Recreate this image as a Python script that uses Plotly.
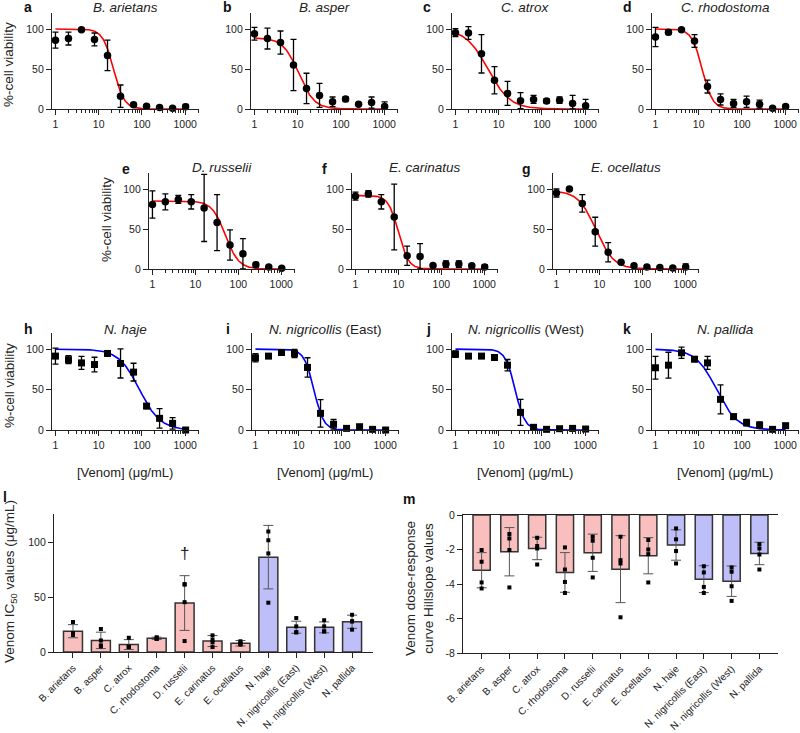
import numpy as np
import plotly.graph_objects as go

W, H = 800, 733

# ---------------- data ----------------
conc = [1, 2, 4, 8, 16, 32, 64, 128, 256, 512, 1024]

species_panels = ["B. arietans", "B. asper", "C. atrox", "C. rhodostoma",
                  "D. russelii", "E. carinatus", "E. ocellatus",
                  "N. haje", "N. nigricollis", "N. nigricollis", "N. pallida"]
species_suffix = ["", "", "", "", "", "", "", "", " (East)", " (West)", ""]
panel_letters = ["a", "b", "c", "d", "e", "f", "g", "h", "i", "j", "k"]

viab_a = [86, 88, 99, 87, 67, 16, 5.4, 3.3, 2, 0.8, 2.9]
sd_a = [10, 8, 1, 8, 19, 14, 2, 1.5, 1, 1, 3]
viab_b = [94, 88, 83, 55, 25.7, 17, 9, 12.4, 5.8, 8, 3]
sd_b = [8, 13, 14.5, 32, 19, 15, 6, 3, 1, 7, 6]
viab_c = [95.4, 95, 69, 36, 19.5, 10.4, 12, 10, 11, 7, 4]
sd_c = [5, 8, 24, 17, 15, 10, 5, 3, 4, 10, 8]
viab_d = [90, 96, 99, 85, 28, 12, 7, 9, 6, 1, 3]
sd_d = [12, 3, 1, 8, 8, 7, 5, 7, 5, 1, 2]
viab_e = [80.6, 84, 87, 84, 76.4, 58, 30, 19, 5.4, 2.5, 0.8]
sd_e = [17, 10, 5, 9, 42, 35, 19, 19, 3, 1, 1]
viab_f = [91, 94, 84, 65, 16.5, 15.7, 4.5, 6.2, 6.2, 4, 2.5]
sd_f = [5, 4, 9, 41, 12, 16, 1, 4, 4, 2.5, 3]
viab_g = [95, 100, 82, 46.7, 21, 8.3, 4, 2.5, 2, 1.2, 2.5]
sd_g = [5, 1, 11, 18, 12, 1, 2, 1, 1, 1, 4]
viab_h = [91.4, 87, 83, 81, 94.7, 82.3, 71.6, 29.6, 14.4, 8.2, 0]
sd_h = [10, 5, 8, 9, 3, 18, 11, 3, 12, 7, 1]
viab_i = [89.3, 91.4, 95.9, 94.7, 77.4, 20.6, 7, 2, 4, 0.8, 0]
sd_i = [5, 1, 1, 5, 12, 17, 6, 1, 3, 1, 1]
viab_j = [93.8, 91.4, 91.4, 89.7, 80.2, 21.8, 3.3, 0.8, 1.6, 2, 1.2]
sd_j = [4, 1, 1, 3, 7, 16, 2, 1, 1, 1, 1]
viab_k = [77, 80.2, 95.5, 87.6, 83, 37.9, 16.5, 9, 6, 0.8, 5.3]
sd_k = [14, 16, 7, 3, 8, 18, 3, 4, 4, 1, 3]

viab_all = [viab_a, viab_b, viab_c, viab_d, viab_e, viab_f, viab_g,
            viab_h, viab_i, viab_j, viab_k]
sd_all = [sd_a, sd_b, sd_c, sd_d, sd_e, sd_f, sd_g, sd_h, sd_i, sd_j, sd_k]

# four-parameter logistic fit parameters
fit_top = [100, 89, 100, 100, 85, 92, 98, 100, 100, 100, 100]
fit_bottom = [0, 0, 0, 0, 0, 0, 0, 0, 0, 0, 0]
fit_ic50 = [22, 10.5, 5.6, 12, 50, 10, 8.3, 88, 22.4, 24, 26]
fit_hill = [3.5, 2.4, 1.7, 3.6, 2.8, 3.7, 2.1, 1.8, 3.8, 3.8, 1.8]

categories = ["B. arietans", "B. asper", "C. atrox", "C. rhodostoma", "D. russelii",
              "E. carinatus", "E. ocellatus", "N. haje", "N. nigricollis (East)",
              "N. nigricollis (West)", "N. pallida"]
genus_group = ["viper"] * 7 + ["elapid"] * 4

ic50_mean = [19, 10.6, 6.8, 12.5, 44.7, 10, 8, 86.6, 22.6, 22.5, 27.6]
ic50_sd = [6, 7.5, 4.5, 1, 25, 5, 2.5, 29, 5.5, 5, 6]
ic50_points = [
    [27.4, 17.3, 16, 15.5],
    [21, 10.5, 6, 5],
    [13, 5, 4.5, 4.5],
    [13.5, 12.5, 12, 12],
    [62, 61.5, 45.5, 10],
    [15.2, 11.2, 8.8, 4.5],
    [9.8, 8.3, 7.3, 6.7],
    [110, 102, 90, 45],
    [31, 23.4, 18, 18],
    [29, 23.4, 18.8, 18.8],
    [34, 28, 28, 20.4],
]

hill_mean = [-3.2, -2.13, -1.94, -3.33, -2.19, -3.14, -2.36, -1.74, -3.72, -3.84, -2.23]
hill_sd = [1.02, 1.4, 0.65, 1.15, 1.08, 1.94, 1.05, 0.88, 0.78, 0.88, 0.65]
hill_points = [
    [-2.03, -2.71, -3.91, -4.26],
    [-1.1, -1.36, -2.03, -4.2],
    [-1.32, -1.8, -1.94, -2.87],
    [-1.88, -3.16, -3.88, -4.52],
    [-1.26, -1.49, -2.48, -3.62],
    [-1.26, -2.62, -2.81, -5.93],
    [-1.45, -2.0, -2.27, -3.91],
    [-0.78, -1.41, -2.09, -2.81],
    [-2.97, -3.33, -4.17, -4.52],
    [-3.04, -3.29, -4.13, -4.98],
    [-1.69, -1.94, -2.29, -3.16],
]

# ---------------- styling / layout ----------------
FONT = "Arial, Liberation Sans, sans-serif"
PINK = "#F9BEBE"
LAV = "#BEBEF9"


def fx(px):
    return px / W


def fy(py):
    return 1 - py / H


# axis pixel boxes: (x0, x1, ytop, ybottom)
boxes = [
    (52, 199, 13, 109), (251, 398, 13, 109), (452, 599, 13, 109), (652, 799, 13, 109),
    (149, 295, 173, 269), (352, 498, 173, 269), (553, 699, 173, 269),
    (52, 199, 333, 430), (252, 399, 333, 430), (452, 599, 333, 430), (652, 799, 333, 430),
]
letter_pos = [(28, 7), (228, 7), (427, 7), (627, 7),
              (126, 169), (324, 169), (526, 169),
              (28, 329), (228, 329), (428, 329), (627, 329)]
title_y = [7, 7, 7, 7, 167, 167, 167, 329, 329, 329, 329]

fig = go.Figure()
layout = dict(width=W, height=H, margin=dict(l=0, r=0, t=0, b=0, autoexpand=False),
              paper_bgcolor="white", plot_bgcolor="white", showlegend=False,
              font=dict(family=FONT, size=11, color="#222"))
annotations = []

minor_vals = [m * 10 ** d for d in range(0, 4) for m in range(2, 10)]

axis_common = dict(showgrid=False, zeroline=False, showline=True, linecolor="#222",
                   linewidth=1.3, ticks="outside", ticklen=5, tickwidth=1.3,
                   tickcolor="#222", automargin=False,
                   tickfont=dict(family=FONT, size=10.5, color="#222"))

for i in range(11):
    n = i + 1
    xa = "xaxis" if n == 1 else f"xaxis{n}"
    ya = "yaxis" if n == 1 else f"yaxis{n}"
    xr = "x" if n == 1 else f"x{n}"
    yr = "y" if n == 1 else f"y{n}"
    x0, x1, yt, yb = boxes[i]
    layout[xa] = dict(axis_common, type="log", range=[-0.08, 3.32],
                      domain=[fx(x0), fx(x1)], anchor=yr,
                      tickvals=[1, 10, 100, 1000], ticktext=["1", "10", "100", "1000"],
                      minor=dict(ticks="outside", ticklen=3, tickwidth=1, tickcolor="#222",
                                 tickvals=minor_vals))
    layout[ya] = dict(axis_common, range=[0, 120], domain=[fy(yb), fy(yt)], anchor=xr,
                      tickvals=[0, 50, 100])

    color = "#ff0000" if i < 7 else "#0000ff"
    symbol = "circle" if i < 7 else "square"
    xc = np.logspace(0, np.log10(1024), 200)
    yc = fit_bottom[i] + (fit_top[i] - fit_bottom[i]) / (1 + (xc / fit_ic50[i]) ** fit_hill[i])
    fig.add_trace(go.Scatter(x=xc, y=yc, mode="lines", line=dict(color=color, width=1.6),
                             xaxis=xr, yaxis=yr, hoverinfo="skip"))
    v = np.array(viab_all[i], dtype=float)
    s = np.array(sd_all[i], dtype=float)
    fig.add_trace(go.Scatter(
        x=conc, y=v, mode="markers", xaxis=xr, yaxis=yr, cliponaxis=False,
        marker=dict(color="black", size=7.5 if i < 7 else 7, symbol=symbol),
        error_y=dict(type="data", array=s, arrayminus=np.minimum(s, v), color="black",
                     thickness=1.3, width=3)))

    # titles
    cx = (x0 + x1) / 2
    annotations.append(dict(
        x=fx(cx), y=fy(title_y[i]), xref="paper", yref="paper",
        text=f"<i>{species_panels[i]}</i>{species_suffix[i]}", showarrow=False,
        font=dict(family=FONT, size=13.5, color="#222"), xanchor="center", yanchor="middle"))
    lx, ly = letter_pos[i]
    annotations.append(dict(
        x=fx(lx), y=fy(ly), xref="paper", yref="paper", text=f"<b>{panel_letters[i]}</b>",
        showarrow=False, font=dict(family=FONT, size=14, color="#111"),
        xanchor="center", yanchor="middle"))

# y titles of dose-response rows
for (px, py) in [(9, 65), (106, 220), (9, 386)]:
    annotations.append(dict(x=fx(px), y=fy(py), xref="paper", yref="paper",
                            text="%-cell viability", textangle=-90, showarrow=False,
                            font=dict(family=FONT, size=13.5, color="#222"),
                            xanchor="center", yanchor="middle"))
# x titles row 3
for px in [125, 325, 525, 725]:
    annotations.append(dict(x=fx(px), y=fy(472), xref="paper", yref="paper",
                            text="[Venom] (μg/mL)", showarrow=False,
                            font=dict(family=FONT, size=13, color="#222"),
                            xanchor="center", yanchor="middle"))

# ---------------- panel l ----------------
xpos = list(range(len(categories)))
fills = [PINK if g == "viper" else LAV for g in genus_group]

layout["xaxis12"] = dict(axis_common, range=[-0.68, 10.75], domain=[fx(54), fx(373)],
                         anchor="y12", tickvals=xpos, ticktext=categories, tickangle=-45,
                         tickfont=dict(family=FONT, size=10, color="#222"))
layout["yaxis12"] = dict(axis_common, range=[0, 126], domain=[fy(652), fy(514)],
                         anchor="x12", tickvals=[0, 50, 100])
fig.add_trace(go.Bar(x=xpos, y=ic50_mean, width=0.68, xaxis="x12", yaxis="y12",
                     marker=dict(color=fills, line=dict(color="#333", width=1.5)),
                     error_y=dict(type="data", array=ic50_sd, color="#555", thickness=1,
                                  width=5)))
px_, py_ = [], []
for k, pts in enumerate(ic50_points):
    for p in pts:
        px_.append(k)
        py_.append(p)
fig.add_trace(go.Scatter(x=px_, y=py_, mode="markers", xaxis="x12", yaxis="y12",
                         marker=dict(color="black", size=4, symbol="square"),
                         cliponaxis=False))
annotations.append(dict(x=4, y=90, xref="x12", yref="y12", text="†", showarrow=False,
                        font=dict(family=FONT, size=17, color="#222")))
annotations.append(dict(x=7, y=127, xref="x12", yref="y12", text="*", showarrow=False,
                        font=dict(family=FONT, size=19, color="#222")))
annotations.append(dict(x=fx(10), y=fy(582), xref="paper", yref="paper",
                        text="Venom IC<sub>50</sub> values (μg/mL)", textangle=-90,
                        showarrow=False, font=dict(family=FONT, size=13.5, color="#222"),
                        xanchor="center", yanchor="middle"))
annotations.append(dict(x=fx(5), y=fy(497), xref="paper", yref="paper", text="<b>l</b>",
                        showarrow=False, font=dict(family=FONT, size=14, color="#111"),
                        xanchor="center", yanchor="middle"))

# ---------------- panel m ----------------
layout["xaxis13"] = dict(axis_common, range=[-0.67, 10.67], domain=[fx(463), fx(778)],
                         anchor="y13", tickvals=xpos, ticktext=categories, tickangle=-45,
                         mirror=True,
                         tickfont=dict(family=FONT, size=10, color="#222"))
layout["yaxis13"] = dict(axis_common, range=[-8, 0], domain=[fy(653), fy(515)],
                         anchor="x13", tickvals=[0, -2, -4, -6, -8],
                         ticktext=["0", "-2", "-4", "-6", "-8"])
fig.add_trace(go.Bar(x=xpos, y=hill_mean, width=0.62, xaxis="x13", yaxis="y13",
                     marker=dict(color=fills, line=dict(color="#333", width=1.5)),
                     error_y=dict(type="data", array=hill_sd, color="#555", thickness=1,
                                  width=5)))
hx, hy = [], []
for k, pts in enumerate(hill_points):
    for p in pts:
        hx.append(k)
        hy.append(p)
fig.add_trace(go.Scatter(x=hx, y=hy, mode="markers", xaxis="x13", yaxis="y13",
                         marker=dict(color="black", size=4, symbol="square"),
                         cliponaxis=False))
annotations.append(dict(x=fx(419), y=fy(589), xref="paper", yref="paper",
                        text="Venom dose-response<br>curve Hillslope values", textangle=-90,
                        showarrow=False, font=dict(family=FONT, size=13.5, color="#222"),
                        xanchor="center", yanchor="middle"))
annotations.append(dict(x=fx(409), y=fy(499), xref="paper", yref="paper", text="<b>m</b>",
                        showarrow=False, font=dict(family=FONT, size=14, color="#111"),
                        xanchor="center", yanchor="middle"))

layout["annotations"] = annotations
fig.update_layout(**layout)
fig.write_html("out.html", config={"displayModeBar": False},
               post_script="document.body.style.margin='0px';document.body.style.padding='0px';")
